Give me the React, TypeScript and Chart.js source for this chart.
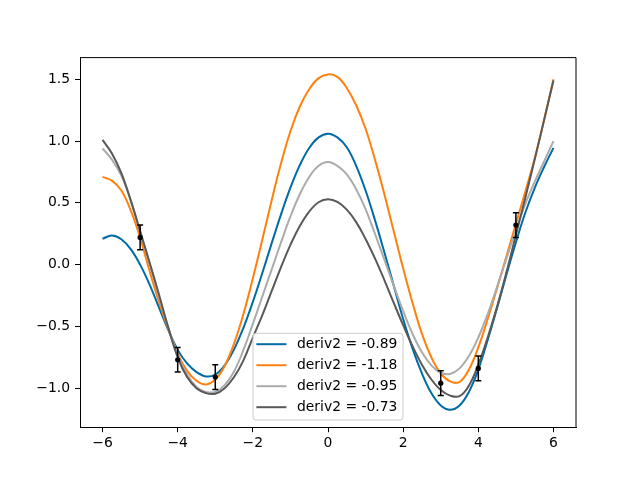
import React, { useEffect, useRef } from "react";
import { Chart, registerables } from "chart.js";

Chart.register(...registerables);

// x grid of the fitted curves
const xGrid = [
  -6, -5.75, -5.5, -5.25, -5, -4.75, -4.5, -4.25, -4, -3.75, -3.5, -3.25, -3,
  -2.75, -2.5, -2.25, -2, -1.75, -1.5, -1.25, -1, -0.75, -0.5, -0.25, 0,
  0.25, 0.5, 0.75, 1, 1.25, 1.5, 1.75, 2, 2.25, 2.5, 2.75, 3, 3.25, 3.5,
  3.75, 4, 4.25, 4.5, 4.75, 5, 5.25, 5.5, 5.75, 6,
];

const curveA = [
  0.21, 0.235, 0.205, 0.125, 0.0, -0.16, -0.345, -0.53, -0.69, -0.8, -0.87, -0.905, -0.89,
  -0.815, -0.686, -0.511, -0.302, -0.07, 0.172, 0.407, 0.623, 0.805, 0.944, 1.03, 1.06,
  1.03, 0.95, 0.8, 0.6, 0.36, 0.1, -0.17, -0.44, -0.68, -0.88, -1.04, -1.14, -1.175, -1.14,
  -1.03, -0.85, -0.61, -0.35, -0.08, 0.18, 0.42, 0.62, 0.79, 0.945,
];

const curveB = [
  0.71, 0.68, 0.6, 0.44, 0.22, -0.05, -0.3, -0.52, -0.72, -0.86, -0.94, -0.97, -0.93,
  -0.82, -0.64, -0.4, -0.11, 0.2, 0.52, 0.82, 1.08, 1.28, 1.42, 1.51, 1.54,
  1.52, 1.43, 1.29, 1.1, 0.85, 0.57, 0.27, -0.03, -0.31, -0.56, -0.75, -0.88, -0.945, -0.95,
  -0.85, -0.67, -0.44, -0.19, 0.07, 0.33, 0.59, 0.86, 1.17, 1.5,
];

const curveC = [
  0.94, 0.85, 0.72, 0.52, 0.27, 0.01, -0.26, -0.51, -0.73, -0.89, -0.99, -1.03, -1.03,
  -0.975, -0.865, -0.69, -0.48, -0.26, -0.04, 0.18, 0.39, 0.57, 0.71, 0.8, 0.83,
  0.8, 0.73, 0.61, 0.45, 0.25, 0.04, -0.17, -0.375, -0.56, -0.71, -0.815, -0.875, -0.885, -0.84,
  -0.74, -0.59, -0.4, -0.18, 0.05, 0.28, 0.49, 0.67, 0.835, 1.0,
];

const curveD = [
  1.01, 0.9, 0.74, 0.52, 0.27, 0.02, -0.24, -0.51, -0.75, -0.91, -1.0, -1.04, -1.045,
  -1.0, -0.91, -0.775, -0.59, -0.41, -0.215, -0.02, 0.16, 0.313, 0.43, 0.505, 0.53,
  0.508, 0.445, 0.344, 0.208, 0.05, -0.125, -0.31, -0.49, -0.66, -0.81, -0.93, -1.015, -1.06, -1.065,
  -0.98, -0.81, -0.59, -0.34, -0.06, 0.24, 0.54, 0.85, 1.17, 1.49,
];

const seriesLabels = [
  "deriv2 = -0.89",
  "deriv2 = -1.18",
  "deriv2 = -0.95",
  "deriv2 = -0.73",
];
const seriesColors = ["#006BA4", "#FF800E", "#ABABAB", "#595959"];

// observations with error bars
const obsX = [-5, -4, -3, 3, 4, 5];
const obsY = [0.22, -0.77, -0.91, -0.96, -0.84, 0.32];
const obsErr = [0.1, 0.1, 0.1, 0.1, 0.1, 0.1];

const xTicks = [-6, -4, -2, 0, 2, 4, 6];
const yTicks = [-1.0, -0.5, 0.0, 0.5, 1.0, 1.5];

const FONT = "DejaVu Sans";
const FONT_SIZE = 13.9;

const fmtMinus = (s: string) => s.replace("-", "\u2212");

const errorBarPlugin = {
  id: "errorBars",
  afterDatasetsDraw(chart: any) {
    const xs = chart.scales.x;
    const ys = chart.scales.y;
    const ctx = chart.ctx;
    ctx.save();
    ctx.strokeStyle = "#000";
    ctx.lineWidth = 1.5;
    for (let i = 0; i < obsX.length; i++) {
      const px = xs.getPixelForValue(obsX[i]);
      const top = ys.getPixelForValue(obsY[i] + obsErr[i]);
      const bot = ys.getPixelForValue(obsY[i] - obsErr[i]);
      ctx.beginPath();
      ctx.moveTo(px, top);
      ctx.lineTo(px, bot);
      ctx.moveTo(px - 3, top);
      ctx.lineTo(px + 3, top);
      ctx.moveTo(px - 3, bot);
      ctx.lineTo(px + 3, bot);
      ctx.stroke();
      ctx.beginPath();
      ctx.fillStyle = "#000";
      ctx.arc(px, ys.getPixelForValue(obsY[i]), 2.6, 0, Math.PI * 2);
      ctx.fill();
    }
    ctx.restore();
  },
};

const frameLegendPlugin = {
  id: "frameLegend",
  afterDraw(chart: any) {
    const ctx = chart.ctx;
    const ca = chart.chartArea;
    ctx.save();
    // top and right spines
    ctx.strokeStyle = "#000";
    ctx.lineWidth = 1;
    ctx.beginPath();
    ctx.moveTo(ca.left, ca.top);
    ctx.lineTo(ca.right, ca.top);
    ctx.lineTo(ca.right, ca.bottom);
    ctx.stroke();

    // legend
    const boxW = 150;
    const boxH = 86.7;
    const bx = (ca.left + ca.right) / 2 - boxW / 2;
    const by = ca.bottom - 7.2 - boxH;
    const r = 2.8;
    ctx.beginPath();
    ctx.moveTo(bx + r, by);
    ctx.lineTo(bx + boxW - r, by);
    ctx.arcTo(bx + boxW, by, bx + boxW, by + r, r);
    ctx.lineTo(bx + boxW, by + boxH - r);
    ctx.arcTo(bx + boxW, by + boxH, bx + boxW - r, by + boxH, r);
    ctx.lineTo(bx + r, by + boxH);
    ctx.arcTo(bx, by + boxH, bx, by + boxH - r, r);
    ctx.lineTo(bx, by + r);
    ctx.arcTo(bx, by, bx + r, by, r);
    ctx.closePath();
    ctx.fillStyle = "rgba(255,255,255,0.8)";
    ctx.fill();
    ctx.strokeStyle = "#cccccc";
    ctx.lineWidth = 1;
    ctx.stroke();

    ctx.font = `${FONT_SIZE}px "${FONT}"`;
    ctx.textBaseline = "middle";
    ctx.textAlign = "left";
    for (let i = 0; i < seriesLabels.length; i++) {
      const cy = by + 10.9 + 21 * i;
      ctx.strokeStyle = seriesColors[i];
      ctx.lineWidth = 2;
      ctx.beginPath();
      ctx.moveTo(bx + 3.4, cy);
      ctx.lineTo(bx + 33.4, cy);
      ctx.stroke();
      ctx.fillStyle = "#000";
      ctx.fillText(seriesLabels[i], bx + 44, cy + 0.5);
    }
    ctx.restore();
  },
};

export default function App() {
  const canvasRef = useRef<HTMLCanvasElement | null>(null);

  useEffect(() => {
    if (!canvasRef.current) return;
    const curves = [curveA, curveB, curveC, curveD];
    const lineSets = curves.map((vals, i) => ({
      type: "line" as const,
      label: seriesLabels[i],
      data: xGrid.map((x, j) => ({ x, y: vals[j] })),
      borderColor: seriesColors[i],
      backgroundColor: seriesColors[i],
      borderWidth: 2,
      pointRadius: 0,
      tension: 0.4,
      fill: false,
      order: 4 - i,
    }));
    const chart = new Chart(canvasRef.current, {
      type: "line",
      data: {
        datasets: [
          ...lineSets,
          {
            type: "scatter" as const,
            label: "data",
            data: obsX.map((x, i) => ({ x, y: obsY[i] })),
            pointRadius: 0,
            showLine: false,
            backgroundColor: "#000",
            borderColor: "#000",
            order: 0,
          },
        ] as any,
      },
      options: {
        responsive: false,
        animation: false,
        devicePixelRatio: 1,
        layout: { padding: { left: 0, top: 57.6, right: 64, bottom: 0 } },
        plugins: {
          legend: { display: false },
          tooltip: { enabled: false },
        },
        scales: {
          x: {
            type: "linear",
            min: -6.6,
            max: 6.6,
            afterFit: (s: any) => {
              s.height = 52.8;
            },
            afterBuildTicks: (s: any) => {
              s.ticks = xTicks.map((v) => ({ value: v }));
            },
            ticks: {
              color: "#000",
              padding: 3,
              font: { family: FONT, size: FONT_SIZE },
              maxRotation: 0,
              callback: (v: any) => fmtMinus(String(v)),
            },
            grid: {
              display: true,
              drawOnChartArea: false,
              drawTicks: true,
              tickLength: 5,
              color: "#000",
              lineWidth: 1,
            },
            border: { display: true, color: "#000", width: 1 },
          },
          y: {
            type: "linear",
            min: -1.316,
            max: 1.676,
            afterFit: (s: any) => {
              s.width = 80;
            },
            afterBuildTicks: (s: any) => {
              s.ticks = yTicks.map((v) => ({ value: v }));
            },
            ticks: {
              color: "#000",
              padding: 5,
              font: { family: FONT, size: FONT_SIZE },
              callback: (v: any) => fmtMinus(Number(v).toFixed(1)),
            },
            grid: {
              display: true,
              drawOnChartArea: false,
              drawTicks: true,
              tickLength: 5,
              color: "#000",
              lineWidth: 1,
            },
            border: { display: true, color: "#000", width: 1 },
          },
        },
      },
      plugins: [errorBarPlugin, frameLegendPlugin],
    });
    return () => chart.destroy();
  }, []);

  return (
    <div style={{ position: "fixed", left: 0, top: 0, width: 640, height: 480, background: "#fff" }}>
      <canvas ref={canvasRef} width={640} height={480} />
    </div>
  );
}
